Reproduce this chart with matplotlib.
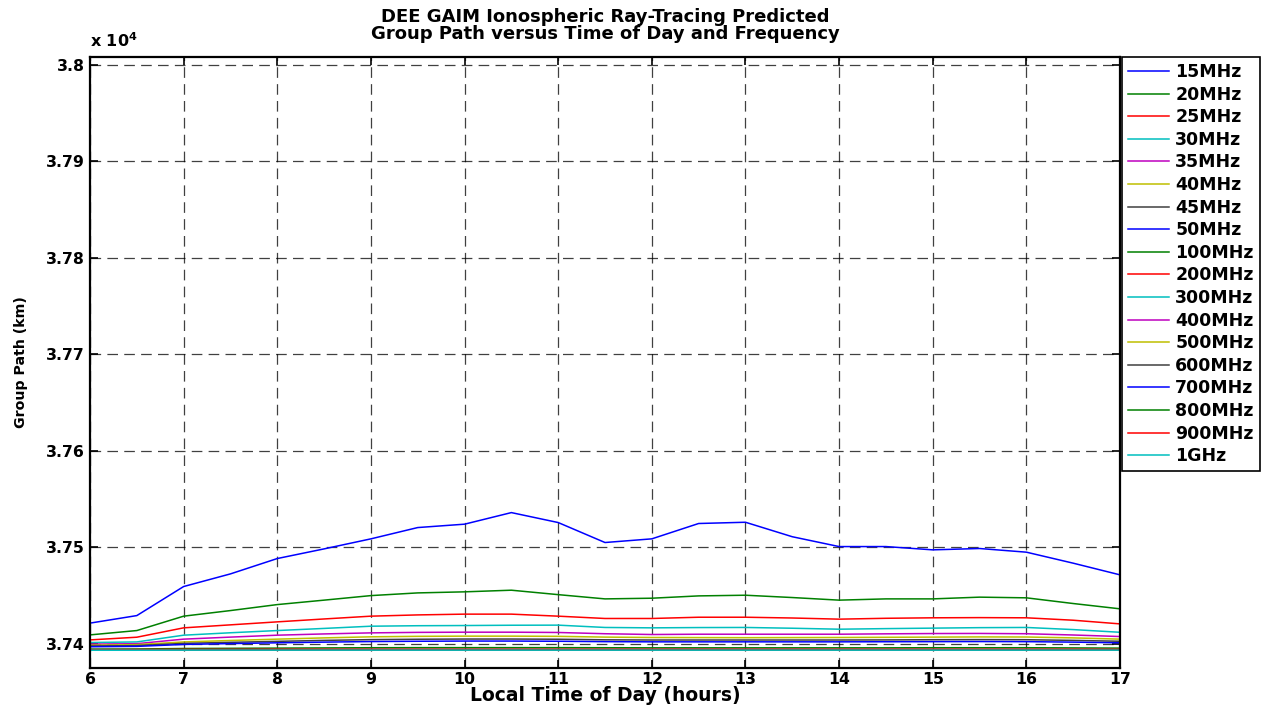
import numpy as np
import matplotlib
matplotlib.use("Agg")
import matplotlib.pyplot as plt
from matplotlib.ticker import FuncFormatter

plt.rcParams['font.family'] = ['DejaVu Sans']
plt.rcParams['font.weight'] = 'bold'
plt.rcParams['mathtext.default'] = 'bf'

# local time of day (hours)
hours = [6, 6.5, 7, 7.5, 8, 8.5, 9, 9.5, 10, 10.5, 11, 11.5,
         12, 12.5, 13, 13.5, 14, 14.5, 15, 15.5, 16, 16.5, 17]

# group path (km) per frequency
f15 = [37421.5, 37429.3, 37459.4, 37472.5, 37488.4, 37498.4, 37508.8, 37520.5, 37524.0, 37536.0, 37525.7, 37505.0,
       37508.8, 37524.7, 37526.0, 37511.0, 37500.8, 37500.8, 37497.4, 37498.8, 37495.0, 37483.6, 37471.5]
f20 = [37409.3, 37413.8, 37428.7, 37434.5, 37440.7, 37445.3, 37450.0, 37452.8, 37453.9, 37455.6, 37451.0, 37446.6,
       37447.3, 37449.7, 37450.4, 37448.0, 37445.3, 37446.6, 37446.6, 37448.4, 37447.7, 37441.8, 37436.3]
f25 = [37404.1, 37406.9, 37416.6, 37419.7, 37422.8, 37425.8, 37428.7, 37430.0, 37430.8, 37430.8, 37428.7, 37426.3,
       37426.3, 37427.6, 37427.6, 37426.8, 37425.6, 37426.5, 37427.0, 37427.2, 37427.0, 37424.5, 37420.7]
f30 = [37401.4, 37402.0, 37409.0, 37411.5, 37413.8, 37416.0, 37418.3, 37418.8, 37419.0, 37419.3, 37419.4, 37417.0,
       37416.6, 37416.9, 37417.0, 37416.2, 37415.2, 37415.8, 37416.3, 37416.8, 37417.0, 37414.8, 37412.0]
f35 = [37399.7, 37400.2, 37404.9, 37407.0, 37409.0, 37410.3, 37411.4, 37411.9, 37412.1, 37412.1, 37411.8, 37410.5,
       37409.7, 37410.0, 37410.0, 37410.0, 37410.0, 37410.4, 37410.7, 37410.8, 37410.5, 37409.2, 37407.6]
f40 = [37398.6, 37399.2, 37402.0, 37403.5, 37404.9, 37406.2, 37407.3, 37407.8, 37408.0, 37408.0, 37407.8, 37407.0,
       37406.6, 37406.5, 37406.4, 37406.5, 37406.6, 37406.8, 37407.0, 37407.2, 37407.1, 37406.2, 37404.9]
f45 = [37397.8, 37398.2, 37400.5, 37401.6, 37402.6, 37403.6, 37404.4, 37404.8, 37405.0, 37405.0, 37404.8, 37404.2,
       37404.0, 37404.0, 37404.0, 37404.0, 37404.0, 37404.1, 37404.3, 37404.4, 37404.3, 37403.6, 37402.7]
f50 = [37397.0, 37397.4, 37399.4, 37400.3, 37401.1, 37401.8, 37402.4, 37402.7, 37402.9, 37402.9, 37402.7, 37402.3,
       37402.1, 37402.1, 37402.1, 37402.1, 37402.1, 37402.2, 37402.3, 37402.4, 37402.3, 37401.8, 37401.1]
f100 = [37394.6, 37394.7, 37395.2, 37395.4, 37395.6, 37395.8, 37396.0, 37396.1, 37396.1, 37396.1, 37396.1, 37396.0,
        37395.9, 37395.9, 37395.9, 37395.9, 37395.9, 37395.9, 37396.0, 37396.0, 37396.0, 37395.8, 37395.6]
f200 = [37394.0, 37394.1, 37394.3, 37394.4, 37394.5, 37394.5, 37394.6, 37394.6, 37394.6, 37394.6, 37394.6, 37394.6,
        37394.6, 37394.6, 37394.6, 37394.6, 37394.6, 37394.6, 37394.6, 37394.6, 37394.6, 37394.5, 37394.4]
f300 = [37393.8, 37393.8, 37393.9, 37394.0, 37394.0, 37394.0, 37394.1, 37394.1, 37394.1, 37394.1, 37394.1, 37394.1,
        37394.1, 37394.1, 37394.1, 37394.1, 37394.1, 37394.1, 37394.1, 37394.1, 37394.1, 37394.0, 37394.0]
f400 = [37393.7, 37393.7, 37393.8, 37393.8, 37393.8, 37393.9, 37393.9, 37393.9, 37393.9, 37393.9, 37393.9, 37393.9,
        37393.9, 37393.9, 37393.9, 37393.9, 37393.9, 37393.9, 37393.9, 37393.9, 37393.9, 37393.8, 37393.8]
f500 = [37393.6, 37393.6, 37393.7, 37393.7, 37393.7, 37393.7, 37393.8, 37393.8, 37393.8, 37393.8, 37393.8, 37393.8,
        37393.8, 37393.8, 37393.8, 37393.8, 37393.8, 37393.8, 37393.8, 37393.8, 37393.8, 37393.7, 37393.7]
f600 = [37393.6, 37393.6, 37393.6, 37393.6, 37393.7, 37393.7, 37393.7, 37393.7, 37393.7, 37393.7, 37393.7, 37393.7,
        37393.7, 37393.7, 37393.7, 37393.7, 37393.7, 37393.7, 37393.7, 37393.7, 37393.7, 37393.7, 37393.6]
f700 = [37393.5, 37393.5, 37393.6, 37393.6, 37393.6, 37393.6, 37393.6, 37393.6, 37393.6, 37393.6, 37393.6, 37393.6,
        37393.6, 37393.6, 37393.6, 37393.6, 37393.6, 37393.6, 37393.6, 37393.6, 37393.6, 37393.6, 37393.6]
f800 = [37393.5, 37393.5, 37393.5, 37393.5, 37393.6, 37393.6, 37393.6, 37393.6, 37393.6, 37393.6, 37393.6, 37393.6,
        37393.6, 37393.6, 37393.6, 37393.6, 37393.6, 37393.6, 37393.6, 37393.6, 37393.6, 37393.6, 37393.5]
f900 = [37393.5, 37393.5, 37393.5, 37393.5, 37393.5, 37393.5, 37393.5, 37393.5, 37393.5, 37393.5, 37393.5, 37393.5,
        37393.5, 37393.5, 37393.5, 37393.5, 37393.5, 37393.5, 37393.5, 37393.5, 37393.5, 37393.5, 37393.5]
f1000 = [37393.4, 37393.4, 37393.5, 37393.5, 37393.5, 37393.5, 37393.5, 37393.5, 37393.5, 37393.5, 37393.5, 37393.5,
         37393.5, 37393.5, 37393.5, 37393.5, 37393.5, 37393.5, 37393.5, 37393.5, 37393.5, 37393.5, 37393.5]

labels = ['15MHz', '20MHz', '25MHz', '30MHz', '35MHz', '40MHz', '45MHz', '50MHz', '100MHz',
          '200MHz', '300MHz', '400MHz', '500MHz', '600MHz', '700MHz', '800MHz', '900MHz', '1GHz']
series = [f15, f20, f25, f30, f35, f40, f45, f50, f100,
          f200, f300, f400, f500, f600, f700, f800, f900, f1000]

# old matlab colour order
colors = [(0, 0, 1), (0, 0.5, 0), (1, 0, 0), (0, 0.75, 0.75),
          (0.75, 0, 0.75), (0.75, 0.75, 0), (0.25, 0.25, 0.25)]

fig = plt.figure(figsize=(12.67, 7.13), dpi=100)
ax = fig.add_axes([90/1267, 1-668/713, (1120-90)/1267, (668-57)/713])

for i, (y, lab) in enumerate(zip(series, labels)):
    ax.plot(hours, y, color=colors[i % 7], lw=1.1, label=lab)

ax.set_xlim(6, 17)
ax.set_ylim(37375, 38008)
ax.set_xticks(range(6, 18))
ax.set_yticks([37400, 37500, 37600, 37700, 37800, 37900, 38000])
ax.yaxis.set_major_formatter(FuncFormatter(lambda v, p: '%g' % (v / 1e4)))
ax.grid(True, color='black', linestyle=(0, (8.5, 5)), lw=0.9, alpha=0.75)
ax.tick_params(direction='in', top=True, right=True, length=6, width=1.2, labelsize=11.3, pad=4)
ax.tick_params(axis='x', pad=3)
for lab in ax.get_xticklabels() + ax.get_yticklabels():
    lab.set_fontweight('bold')
for s in ax.spines.values():
    s.set_linewidth(1.6)

ax.text(0, 1.012, 'x 10$^{4}$', transform=ax.transAxes, fontsize=11.5,
        fontweight='bold', ha='left', va='bottom')
ax.set_title('DEE GAIM Ionospheric Ray-Tracing Predicted\nGroup Path versus Time of Day and Frequency',
             fontsize=13, fontweight='bold', pad=13, linespacing=0.95)
ax.set_xlabel('Local Time of Day (hours)', fontsize=13.5, fontweight='bold', labelpad=-1)
ax.set_ylabel('Group Path (km)', fontsize=10.2, fontweight='bold', labelpad=13)

leg = ax.legend(loc='upper left', bbox_to_anchor=(1.0015, 1.0), borderaxespad=0,
                prop={'weight': 'bold', 'size': 12.5}, handlelength=2.4, labelspacing=0.265,
                fancybox=False, framealpha=1, edgecolor='black', borderpad=0.35, handletextpad=0.35)
leg.get_frame().set_linewidth(1.2)

fig.savefig('out.png', dpi=100)
